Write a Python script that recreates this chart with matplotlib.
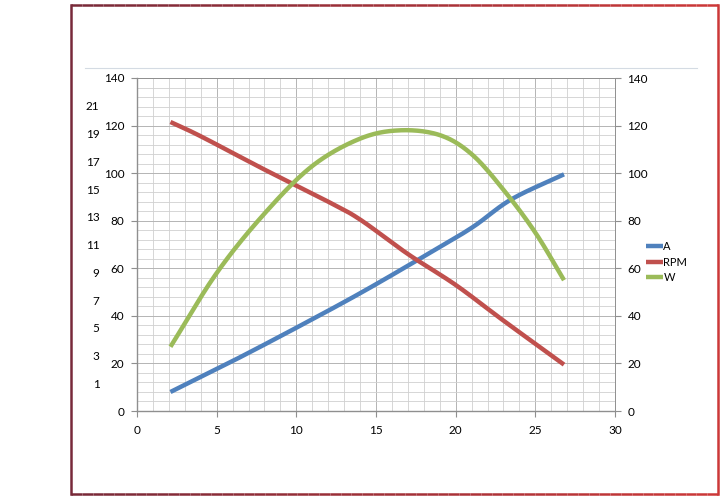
import numpy as np
import matplotlib
matplotlib.use("Agg")
import matplotlib.pyplot as plt
from matplotlib.collections import LineCollection
from matplotlib.ticker import MultipleLocator

plt.rcParams['font.family'] = ['Lato', 'DejaVu Sans']

# values
a_x = [2.1, 6, 10, 14, 18, 21, 23.5, 26.8]
a_y = [8, 21, 35, 49.5, 65, 77, 89, 99.5]

rpm_x = [2.1, 4, 8, 12, 14, 17, 20, 23, 26.8]
rpm_y = [121.5, 115.5, 101.5, 88, 80.5, 66, 53, 38, 19.5]

w_x = [2.1, 5, 8, 11, 14, 16.5, 19, 21, 23, 25, 26.8]
w_y = [27, 58, 83, 103, 114.5, 118, 116, 108, 93, 75, 55]

left_ticks = list(range(0, 141, 20))
outer_ticks = list(range(1, 22, 2))


def smooth(x, y):
    # catmull-rom, close to Excel's smoothed line
    x = np.asarray(x, float)
    y = np.asarray(y, float)
    px = np.concatenate([[2 * x[0] - x[1]], x, [2 * x[-1] - x[-2]]])
    py = np.concatenate([[2 * y[0] - y[1]], y, [2 * y[-1] - y[-2]]])
    xs, ys = [], []
    t = np.linspace(0, 1, 30, endpoint=False)
    for i in range(1, len(px) - 2):
        p0, p1, p2, p3 = px[i - 1], px[i], px[i + 1], px[i + 2]
        q0, q1, q2, q3 = py[i - 1], py[i], py[i + 1], py[i + 2]
        xs.append(0.5 * (2 * p1 + (-p0 + p2) * t + (2 * p0 - 5 * p1 + 4 * p2 - p3) * t**2 + (-p0 + 3 * p1 - 3 * p2 + p3) * t**3))
        ys.append(0.5 * (2 * q1 + (-q0 + q2) * t + (2 * q0 - 5 * q1 + 4 * q2 - q3) * t**2 + (-q0 + 3 * q1 - 3 * q2 + q3) * t**3))
    xs.append([x[-1]])
    ys.append([y[-1]])
    return np.concatenate(xs), np.concatenate(ys)


W, H = 728, 501
fig = plt.figure(figsize=(W / 100, H / 100), dpi=100)

# plot area in pixels: x 137..615, y 78..411
ax = fig.add_axes([137 / W, 1 - 411 / H, (615 - 137) / W, (411 - 78) / H])
ax.set_xlim(0, 30)
ax.set_ylim(0, 140)

ax.xaxis.set_major_locator(MultipleLocator(5))
ax.xaxis.set_minor_locator(MultipleLocator(1))
ax.yaxis.set_major_locator(MultipleLocator(20))
ax.yaxis.set_minor_locator(MultipleLocator(4))
ax.grid(which='major', color='#b4b4b4', lw=0.7)
ax.grid(which='minor', color='#d0d0d0', lw=0.6)
ax.set_axisbelow(True)

for sp in ['top', 'right']:
    ax.spines[sp].set_color('#8f8f8f')
    ax.spines[sp].set_linewidth(0.7)
for sp in ['left', 'bottom']:
    ax.spines[sp].set_color('#8f8f8f')
    ax.spines[sp].set_linewidth(1.0)

ax.set_yticks(left_ticks)
ax.tick_params(which='major', length=4, color='#8f8f8f', labelsize=8.5, pad=5)
ax.tick_params(which='minor', length=0)
ax.tick_params(axis='x', pad=6)

colors = ['#4f81bd', '#c0504d', '#9bbb59']
for (xx, yy), c, name in zip([(a_x, a_y), (rpm_x, rpm_y), (w_x, w_y)], colors, ['A', 'RPM', 'W']):
    sx, sy = smooth(xx, yy)
    ax.plot(sx, sy, color=c, lw=3.2, solid_capstyle='butt', label=name)

# right axis
axr = ax.twinx()
axr.set_ylim(0, 140)
axr.set_yticks(left_ticks)
axr.tick_params(length=4, color='#8f8f8f', labelsize=8.5, pad=5)
for sp in axr.spines.values():
    sp.set_visible(False)

# outer left axis with odd numbers
axo = ax.twinx()
axo.set_ylim(-1, 23)
axo.yaxis.tick_left()
axo.set_yticks(outer_ticks)
axo.tick_params(length=0, labelsize=8.5, pad=27)
for sp in axo.spines.values():
    sp.set_visible(False)

leg = ax.legend(loc='center left', bbox_to_anchor=(640 / W, 1 - 262 / H),
                bbox_transform=fig.transFigure, frameon=False, fontsize=8,
                handlelength=1.6, handletextpad=0.0, labelspacing=0.4,
                borderpad=0)

# thin line above plot area
fig.add_artist(plt.Line2D([85 / W, 697 / W], [1 - 68 / H, 1 - 68 / H],
                          transform=fig.transFigure, color='#d4dbe3', lw=0.8))

# frame with maroon -> red gradient
def grad_line(x0, x1, y, n=60):
    xs = np.linspace(x0, x1, n + 1)
    segs = [[(xs[i] / W, 1 - y / H), (xs[i + 1] / W, 1 - y / H)] for i in range(n)]
    cs = [np.array([0.47, 0.16, 0.22]) * (1 - f) + np.array([0.80, 0.22, 0.22]) * f
          for f in np.linspace(0, 1, n)]
    return LineCollection(segs, colors=cs, linewidths=1.8, transform=fig.transFigure)

fig.add_artist(grad_line(71, 718, 5))
fig.add_artist(grad_line(71, 718, 494))
fig.add_artist(plt.Line2D([71 / W, 71 / W], [1 - 5 / H, 1 - 494 / H],
                          transform=fig.transFigure, color='#78293a', lw=1.8))
fig.add_artist(plt.Line2D([718 / W, 718 / W], [1 - 5 / H, 1 - 494 / H],
                          transform=fig.transFigure, color='#cc3838', lw=1.8))

fig.savefig('out.png', dpi=100)
